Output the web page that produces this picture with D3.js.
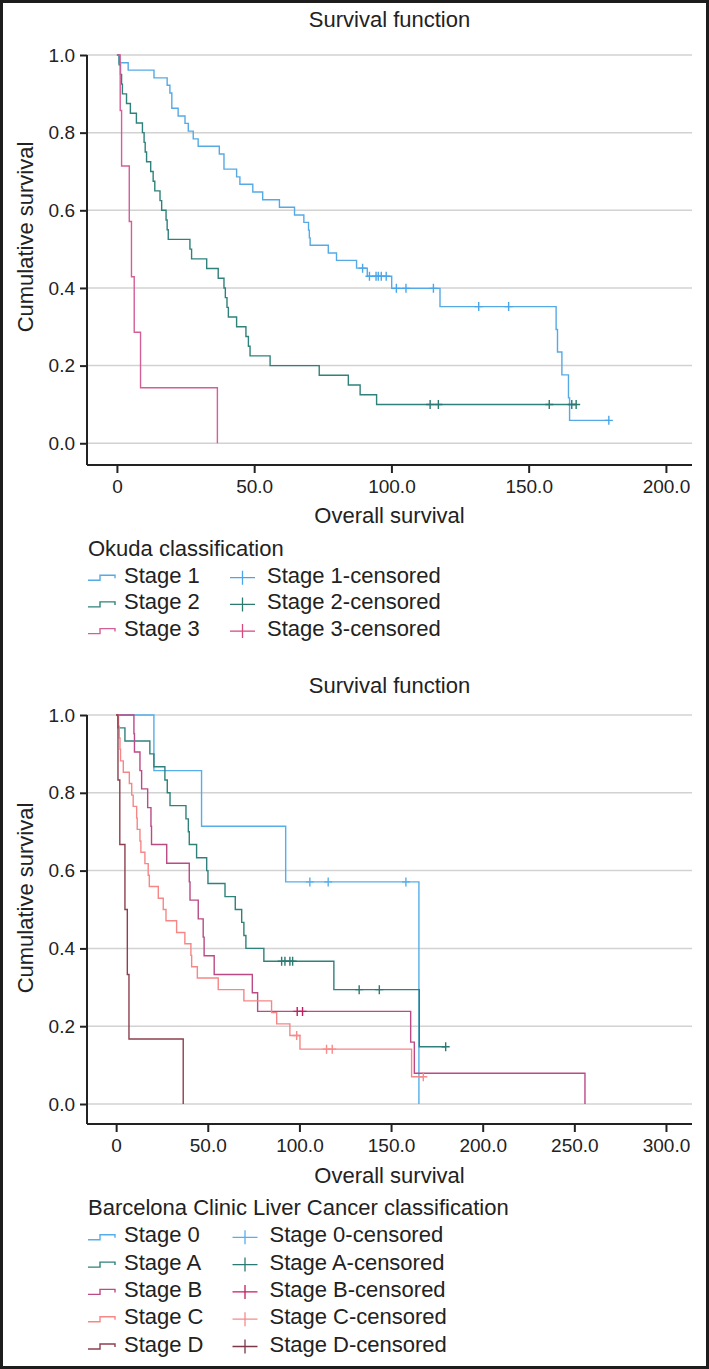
<!DOCTYPE html>
<html><head><meta charset="utf-8">
<script src="https://cdn.jsdelivr.net/npm/d3@7"></script>
<style>
html,body{margin:0;padding:0;background:#fff;}
svg text{font-family:"Liberation Sans",Arial,Helvetica,sans-serif;fill:#222;}
</style></head>
<body><svg id="chart" width="709" height="1369"></svg>
<script>
// ---------- DATA (time in months, cumulative survival after event) ----------
// Okuda classification
const okudaStage1 = [[0,1.0],[0.8,0.980],[4.1,0.961],[13.5,0.941],[18.3,0.922],[19.3,0.902],[20.0,0.863],[22.3,0.843],[24.8,0.824],[26.0,0.804],[27.8,0.784],[29.6,0.765],[37.3,0.745],[39.0,0.706],[43.6,0.686],[44.8,0.667],[49.5,0.647],[53.1,0.627],[59.2,0.608],[64.7,0.588],[68.1,0.569],[69.8,0.549],[70.1,0.529],[70.4,0.510],[77.0,0.490],[80.0,0.471],[87.3,0.451],[91.2,0.430],[100.1,0.399],[117.7,0.352],[160.0,0.293],[160.5,0.235],[162.1,0.176],[164.5,0.117],[164.9,0.059]];
const okudaStage1Censored = [89.5,92.0,94.4,95.2,96.3,98.1,101.8,105.3,115.3,131.8,142.7,179.2];
const okudaStage2 = [[0,1.0],[0.8,0.975],[1.3,0.950],[1.7,0.925],[2.0,0.900],[3.5,0.875],[4.9,0.850],[7.1,0.825],[9.3,0.800],[9.9,0.775],[10.3,0.750],[10.8,0.725],[12.3,0.700],[13.2,0.675],[13.8,0.650],[15.7,0.625],[16.3,0.600],[17.9,0.575],[18.3,0.550],[18.7,0.525],[26.6,0.500],[27.2,0.475],[32.7,0.450],[36.9,0.425],[39.0,0.400],[39.5,0.375],[40.1,0.350],[40.6,0.325],[43.6,0.300],[47.0,0.275],[47.9,0.250],[48.5,0.225],[55.8,0.200],[73.7,0.175],[84.3,0.150],[88.6,0.125],[94.6,0.100]];
const okudaStage2Censored = [114.1,117.1,157.5,165.7,167.3];
const okudaStage3 = [[0,1.0],[1.2,0.857],[1.7,0.714],[4.5,0.571],[5.3,0.429],[6.3,0.286],[8.6,0.143],[36.6,0.0]];
const okudaStage3Censored = [];

// Barcelona Clinic Liver Cancer classification
const bclcStage0 = [[0,1.0],[20.6,0.857],[46.6,0.714],[92.5,0.571],[165.2,0.0]];
const bclcStage0Censored = [105.7,115.7,158.1];
const bclcStageA = [[0,1.0],[1.0,0.967],[4.8,0.933],[18.4,0.900],[20.6,0.867],[26.6,0.833],[27.9,0.800],[29.4,0.767],[38.1,0.733],[39.4,0.700],[39.9,0.667],[43.9,0.633],[49.4,0.600],[50.1,0.567],[59.4,0.533],[65.0,0.500],[68.5,0.467],[69.7,0.433],[70.8,0.400],[80.6,0.367],[118.8,0.294],[165.4,0.147]];
const bclcStageACensored = [90.3,92.1,94.8,96.3,132.6,143.6,179.8];
const bclcStageB = [[0,1.0],[9.7,0.952],[10.0,0.905],[13.0,0.857],[13.9,0.810],[17.2,0.762],[19.0,0.714],[19.3,0.667],[27.6,0.619],[39.9,0.571],[40.3,0.524],[44.8,0.476],[47.5,0.429],[48.0,0.381],[53.5,0.333],[74.3,0.286],[77.2,0.238],[160.7,0.159],[162.7,0.079],[255.8,0.0]];
const bclcStageBCensored = [98.8,101.7];
const bclcStageC = [[0,1.0],[1.3,0.971],[1.7,0.941],[2.1,0.912],[2.4,0.882],[3.9,0.853],[7.2,0.824],[8.5,0.794],[9.3,0.765],[11.2,0.735],[11.5,0.706],[13.0,0.676],[13.5,0.647],[15.7,0.618],[17.5,0.588],[18.1,0.559],[23.0,0.529],[25.7,0.500],[27.2,0.471],[33.0,0.441],[37.5,0.412],[40.8,0.382],[41.2,0.353],[44.3,0.324],[55.7,0.294],[69.7,0.265],[84.8,0.235],[87.6,0.206],[94.8,0.176],[100.3,0.141],[161.2,0.070]];
const bclcStageCCensored = [98.5,114.8,117.9,167.6];
const bclcStageD = [[0,1.0],[1.0,0.833],[2.0,0.667],[4.8,0.500],[6.1,0.333],[7.0,0.167],[36.6,0.0]];
const bclcStageDCensored = [];

const okudaLabels = ["Stage 1","Stage 2","Stage 3"];
const bclcLabels = ["Stage 0","Stage A","Stage B","Stage C","Stage D"];
const yTicks = [0,0.2,0.4,0.6,0.8,1.0];
const okudaXTicks = [0,50,100,150,200];
const bclcXTicks = [0,50,100,150,200,250,300];

// ---------- STYLE ----------
const okudaColors = ["#55aae6","#2f817b","#d45e96"];
const okudaCensColors = ["#4aa6ea","#2a7a72","#d8477e"];
const bclcColors = ["#55aeea","#2f817b","#bb4a85","#f78686","#8c3f4e"];
const bclcCensColors = ["#55b0ee","#2a7a72","#c21d62","#f88a8a","#7a3848"];
const labelSize = 22;
const tickSize = 19;

const svg = d3.select("#chart");
svg.append("rect").attr("x",0).attr("y",0).attr("width",709).attr("height",1369).attr("fill","#fff");
svg.append("rect").attr("x",1.5).attr("y",1.5).attr("width",706).attr("height",1366)
  .attr("fill","none").attr("stroke","#1d1d1d").attr("stroke-width",3);

function survAt(series,t){
  let s = series[0][1];
  for (const p of series){ if (p[0] <= t) s = p[1]; }
  return s;
}

function panel(cfg){
  const x = d3.scaleLinear().domain(cfg.xDomain).range([87,692]);
  const y = d3.scaleLinear().domain(cfg.yDomain).range([cfg.yBottom,cfg.yTop]);
  const g = svg.append("g");

  g.append("text").attr("x",389.5).attr("y",cfg.titleY).attr("text-anchor","middle")
    .attr("font-size",labelSize).text("Survival function");

  g.append("g").selectAll("line").data(yTicks).join("line")
    .attr("x1",87).attr("x2",692).attr("y1",d=>y(d)).attr("y2",d=>y(d))
    .attr("stroke","#d2d2d2").attr("stroke-width",1.5);

  const line = d3.line().x(d=>x(d[0])).y(d=>y(d[1])).curve(d3.curveStepAfter);
  cfg.series.forEach((s,i)=>{
    const pts = s.data.slice();
    const lastC = s.cens.length ? d3.max(s.cens) : -1;
    if (lastC > pts[pts.length-1][0]) pts.push([lastC, pts[pts.length-1][1]]);
    g.append("path").attr("d",line(pts)).attr("fill","none")
      .attr("stroke",cfg.colors[i]).attr("stroke-width",1.4);
    s.cens.forEach(t=>{
      const cx = x(t), cy = y(survAt(s.data,t));
      g.append("path").attr("d",`M${cx-4},${cy}H${cx+4}M${cx},${cy-4.5}V${cy+4.5}`)
        .attr("stroke",cfg.censColors[i]).attr("stroke-width",1.4).attr("fill","none");
    });
  });

  const yAxis = d3.axisLeft(y).tickValues(yTicks).tickFormat(d3.format(".1f"))
    .tickSize(7).tickSizeOuter(0).tickPadding(5);
  const ya = g.append("g").attr("transform","translate(87,0)").call(yAxis);
  const xAxis = d3.axisBottom(x).tickValues(cfg.xTicks)
    .tickFormat(d=> d===0 ? "0" : d3.format(".1f")(d))
    .tickSize(8).tickSizeOuter(0).tickPadding(7);
  const xa = g.append("g").attr("transform",`translate(0,${cfg.yBottom})`).call(xAxis);
  [ya,xa].forEach(a=>{
    a.select(".domain").attr("stroke","#222").attr("stroke-width",2);
    a.selectAll(".tick line").attr("stroke","#222").attr("stroke-width",2);
    a.selectAll(".tick text").attr("font-size",tickSize).attr("fill","#222")
      .attr("font-family",'"Liberation Sans",Arial,sans-serif');
  });
  ya.select(".domain").attr("d",`M0,${cfg.yTop}V${cfg.yBottom}`);
  xa.select(".domain").attr("d",`M87,0H692`);

  g.append("text").attr("x",389.5).attr("y",cfg.xTitleY).attr("text-anchor","middle")
    .attr("font-size",labelSize).text("Overall survival");
  g.append("text").attr("transform",`translate(33,${cfg.yLabelCenter}) rotate(-90)`)
    .attr("text-anchor","middle").attr("font-size",labelSize).text("Cumulative survival");

  g.append("text").attr("x",88).attr("y",cfg.legendTitleY).attr("font-size",labelSize).text(cfg.legendTitle);
  cfg.labels.forEach((lab,i)=>{
    const by = cfg.legendTitleY + cfg.legendStep*(i+1);
    const iy = by - 5;
    g.append("path").attr("d",`M88,${iy+2.5}H100V${iy-2.5}H115V${iy+0.5}`)
      .attr("fill","none").attr("stroke",cfg.colors[i]).attr("stroke-width",1.4);
    g.append("text").attr("x",124).attr("y",by).attr("font-size",labelSize).text(lab);
    g.append("path").attr("d",`M${cfg.censIconX-12.5},${iy}H${cfg.censIconX+12.5}M${cfg.censIconX},${iy-7}V${iy+7}`)
      .attr("fill","none").attr("stroke",cfg.censColors[i]).attr("stroke-width",1.3);
    g.append("text").attr("x",cfg.censIconX+24.5).attr("y",by).attr("font-size",labelSize).text(lab+"-censored");
  });
}

panel({
  xDomain:[-10.9,209.5], yDomain:[-0.056,1.0], yTop:55, yBottom:465,
  xTicks:okudaXTicks, titleY:27, xTitleY:523, yLabelCenter:237,
  series:[{data:okudaStage1,cens:okudaStage1Censored},{data:okudaStage2,cens:okudaStage2Censored},{data:okudaStage3,cens:okudaStage3Censored}],
  colors:okudaColors, censColors:okudaCensColors, labels:okudaLabels,
  legendTitle:"Okuda classification", legendTitleY:556, legendStep:26.7, censIconX:242.5
});

panel({
  xDomain:[-15.9,314.2], yDomain:[-0.0514,1.0], yTop:715, yBottom:1124,
  xTicks:bclcXTicks, titleY:693, xTitleY:1183, yLabelCenter:898,
  series:[{data:bclcStage0,cens:bclcStage0Censored},{data:bclcStageA,cens:bclcStageACensored},{data:bclcStageB,cens:bclcStageBCensored},{data:bclcStageC,cens:bclcStageCCensored},{data:bclcStageD,cens:bclcStageDCensored}],
  colors:bclcColors, censColors:bclcCensColors, labels:bclcLabels,
  legendTitle:"Barcelona Clinic Liver Cancer classification", legendTitleY:1215, legendStep:27.3, censIconX:245
});
</script></body></html>
